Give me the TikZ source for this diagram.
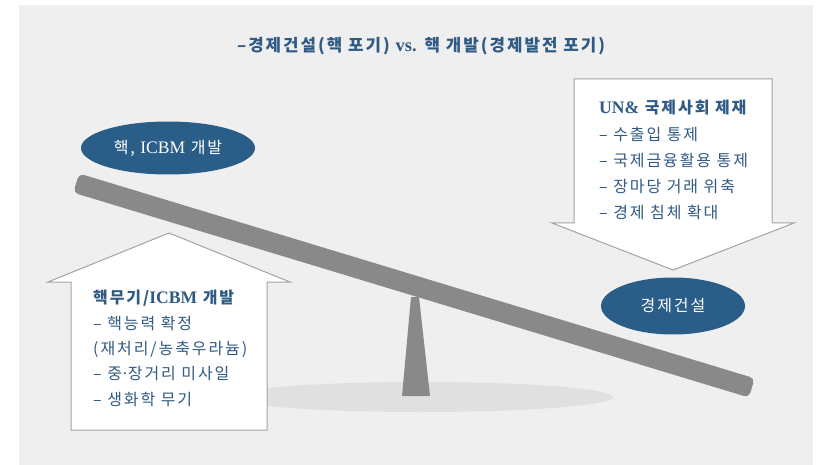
\documentclass[tikz,border=0pt]{standalone}
\usepackage{fontspec}
\setmainfont{Noto Sans CJK KR}[LetterSpace=12]
\newfontfamily\latinserif{Liberation Serif}[Scale=1.1]
\definecolor{bg}{HTML}{EFEFEF}
\definecolor{barg}{HTML}{898989}
\definecolor{shad}{HTML}{E0E0E0}
\definecolor{navy}{HTML}{2A5E89}
\definecolor{tc}{HTML}{2F5A84}
\definecolor{edge}{HTML}{A3A3A3}
\tikzset{
  oval/.style={ellipse, fill=navy, text=white, inner sep=0pt, font=\fontsize{16}{19}\selectfont},
  txt/.style={anchor=west, inner sep=0pt, text=tc, font=\fontsize{16}{19}\selectfont},
  txtb/.style={txt, font=\fontsize{16}{19}\selectfont\bfseries},
  arrowbox/.style={fill=white, draw=edge, line width=1pt, line join=miter}
}
\usetikzlibrary{shapes.geometric}
\begin{document}
\begin{tikzpicture}[x=1pt,y=-1pt]
\useasboundingbox (0,0) rectangle (819,465);
\fill[white] (0,0) rectangle (819,465);
\fill[bg] (19,5) rectangle (813,465);
% title
\node[txtb, anchor=center, font=\fontsize{16.8}{19}\selectfont\bfseries] (title) at (421,46) {–경제건설(핵 포기) {\latinserif vs.} 핵 개발(경제발전 포기)};
% shadow
\fill[shad] (421,397) ellipse [x radius=192, y radius=15];
% fulcrum
\fill[barg] (411,297) -- (419,297) -- (430,396) -- (402,396) -- cycle;
% bar
\node[rectangle, rounded corners=5pt, fill=barg, minimum width=706pt, minimum height=20pt, inner sep=0pt, rotate=-16.87] (bar) at (414,285.5) {};
% ovals
\node[oval, minimum width=174pt, minimum height=53pt] (nuke) at (168,148) {핵, {\latinserif ICBM} 개발};
\node[oval, minimum width=144pt, minimum height=57pt] (econ) at (673,306) {경제건설};
% down arrow (right)
\draw[arrowbox] (574,79) -- (772,79) -- (772,223) -- (794,223) -- (673,270) -- (552,223) -- (574,223) -- cycle;
% up arrow (left)
\draw[arrowbox] (71,430) -- (71,282) -- (48,282) -- (169,233) -- (290,282) -- (267,282) -- (267,430) -- cycle;
% right text
\node[txtb] (r1) at (599,108) {{\latinserif UN\&} 국제사회 제재};
\node[txt] (r2) at (599,134) {– 수출입 통제};
\node[txt] (r3) at (599,160) {– 국제금융활용 통제};
\node[txt] (r4) at (599,186) {– 장마당 거래 위축};
\node[txt] (r5) at (599,212) {– 경제 침체 확대};
% left text
\node[txtb] (l1) at (93,298) {핵무기/{\latinserif ICBM} 개발};
\node[txt] (l2) at (93,323) {– 핵능력 확정};
\node[txt] (l3) at (93,349) {(재처리/농축우라늄)};
\node[txt] (l4) at (93,374) {– 중{\latinserif ·}장거리 미사일};
\node[txt] (l5) at (93,399) {– 생화학 무기};
\end{tikzpicture}
\end{document}
